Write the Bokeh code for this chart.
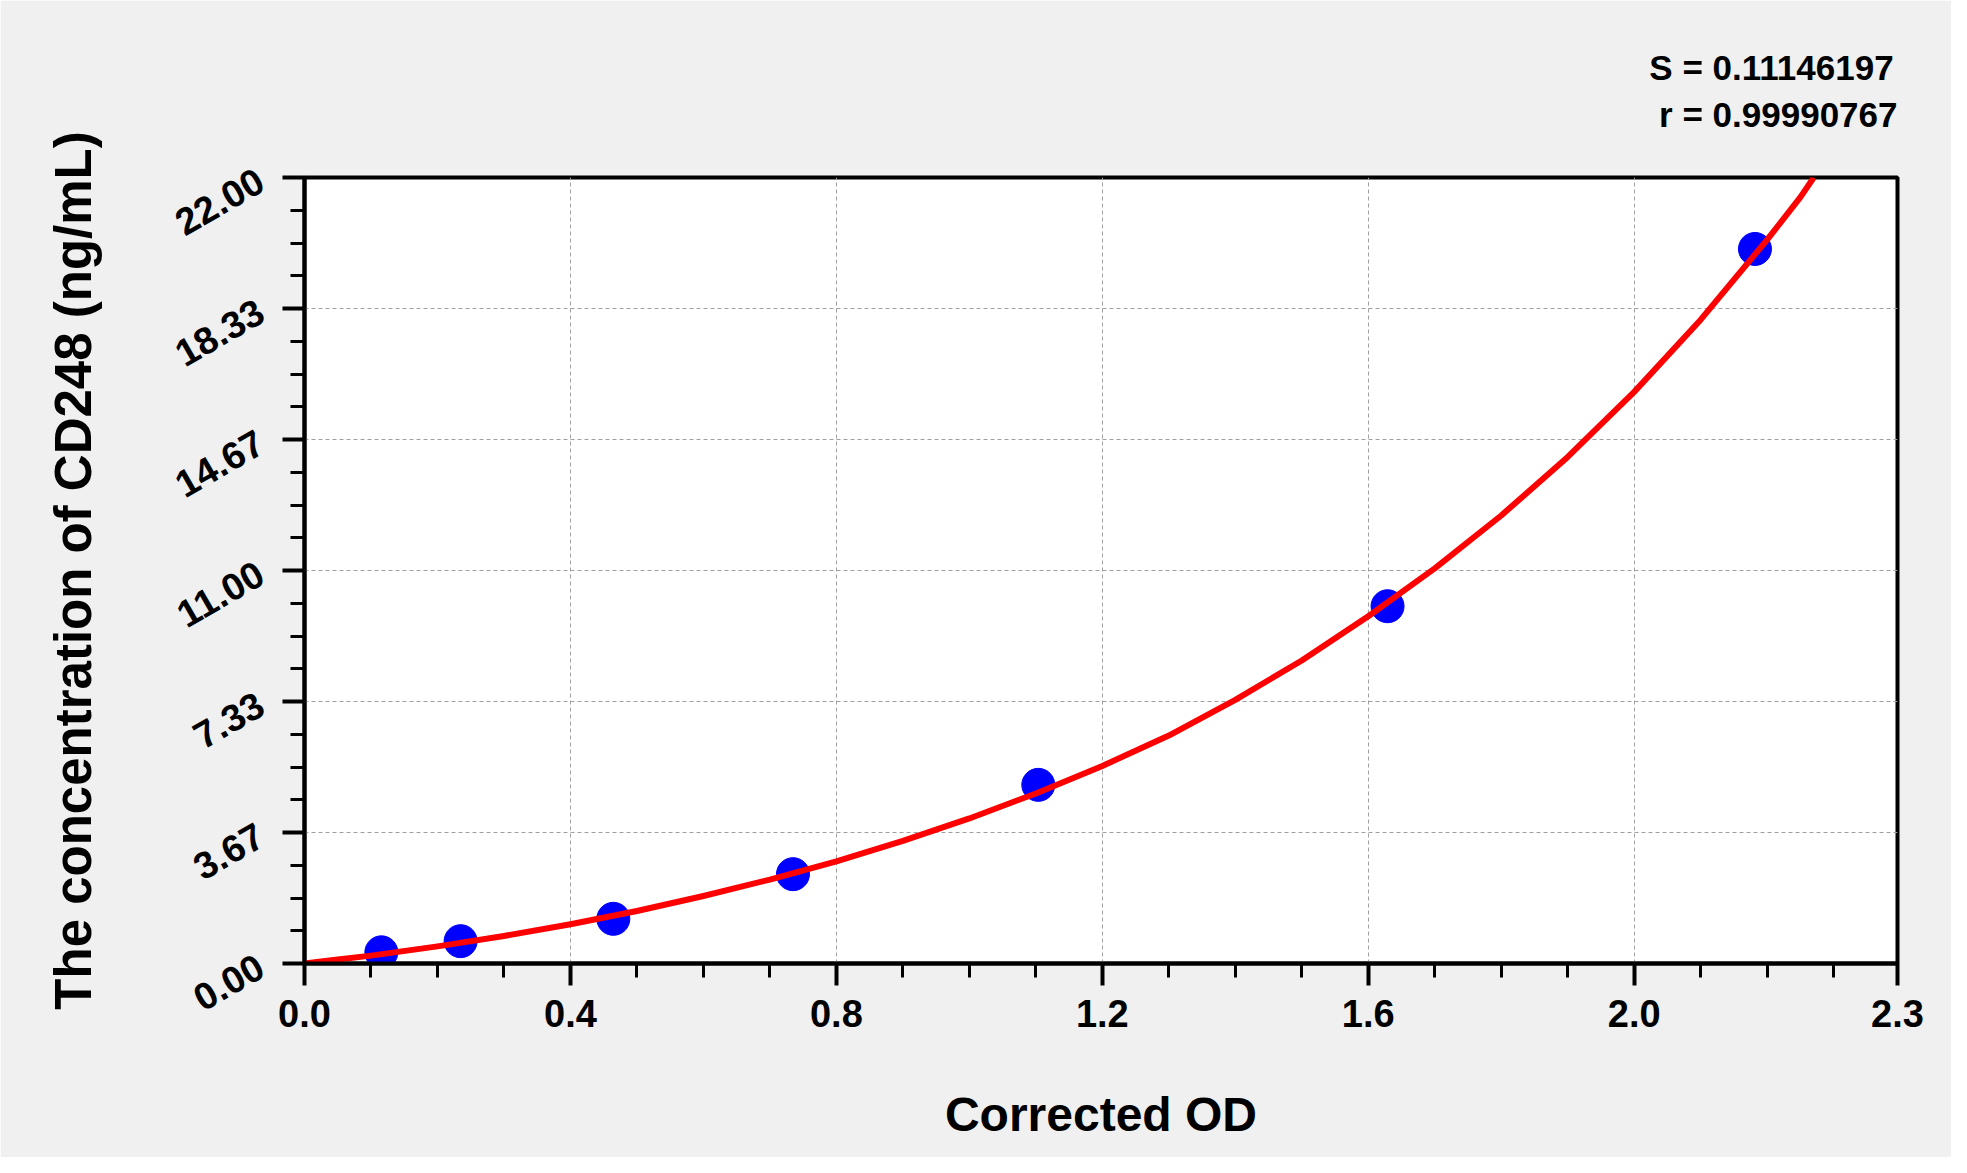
import math
from bokeh.plotting import figure
from bokeh.models import Range1d, FixedTicker, NumeralTickFormatter, CustomJSTickFormatter, Title
from bokeh.embed import file_html
from bokeh.resources import INLINE

# standard points (corrected OD vs concentration)
od = [0.1156, 0.2348, 0.4645, 0.7347, 1.1037, 1.629, 2.1816]
conc = [0.3125, 0.625, 1.25, 2.5, 5.0, 10.0, 20.0]

# fitted curve
curve_od = [0.0, 0.05, 0.1, 0.2, 0.3, 0.4, 0.5, 0.6, 0.7, 0.8, 0.9, 1.0, 1.1,
            1.2, 1.3, 1.4, 1.5, 1.6, 1.7, 1.8, 1.9, 2.0, 2.1, 2.2, 2.25, 2.27]
curve_conc = [0.0, 0.11, 0.22, 0.48, 0.77, 1.10, 1.47, 1.89, 2.35, 2.86, 3.43,
              4.06, 4.76, 5.53, 6.38, 7.38, 8.48, 9.72, 11.06, 12.54, 14.18,
              16.00, 18.02, 20.26, 21.45, 22.0]

x_major = [0.0, 0.4, 0.8, 1.2, 1.6, 2.0, 2.396]
x_minor = [round(0.1 * i, 1) for i in range(24)]
y_major = [0.0, 3.6667, 7.3333, 11.0, 14.6667, 18.3333, 22.0]
y_minor = [22 / 24 * i for i in range(25)]

fit_stats = ["S = 0.11146197", "r = 0.99990767"]

FONT = "Liberation Sans"

p = figure(width=1951, height=1157,
           x_range=Range1d(0, 2.396), y_range=Range1d(0, 22),
           output_backend="svg", toolbar_location=None, tools="",
           min_border_left=304, min_border_right=54,
           min_border_top=177, min_border_bottom=194)

p.border_fill_color = "#f0f0f0"
p.background_fill_color = "white"
p.outline_line_color = "black"
p.outline_line_width = 4

# axes
p.xaxis.ticker = FixedTicker(ticks=x_major, minor_ticks=x_minor)
p.yaxis.ticker = FixedTicker(ticks=y_major, minor_ticks=y_minor)
p.xaxis.formatter = CustomJSTickFormatter(code="return (Math.floor(tick*10 + 1e-6)/10).toFixed(1)")
p.yaxis.formatter = NumeralTickFormatter(format="0.00")
p.yaxis.major_label_orientation = math.pi / 6

for ax in (p.xaxis, p.yaxis):
    ax.axis_line_width = 4
    ax.major_tick_line_width = 4
    ax.minor_tick_line_width = 3
    ax.major_tick_in = 0
    ax.minor_tick_in = 0
    ax.major_tick_out = 22
    ax.minor_tick_out = 14
    ax.major_label_text_font = FONT
    ax.major_label_text_font_style = "bold"
    ax.major_label_text_font_size = "38px"
    ax.major_label_text_color = "black"
    ax.axis_label_text_font = FONT
    ax.axis_label_text_font_style = "bold"
    ax.axis_label_text_color = "black"

p.xaxis.major_label_standoff = 14
p.yaxis.major_label_standoff = 22
p.xaxis.axis_label = "Corrected OD"
p.xaxis.axis_label_text_font_size = "48px"
p.xaxis.axis_label_standoff = 58
p.yaxis.axis_label = "The concentration of CD248 (ng/mL)"
p.yaxis.axis_label_text_font_size = "51px"
p.yaxis.axis_label_standoff = 60

p.grid.grid_line_color = "#a0a0a0"
p.grid.grid_line_width = 1
p.grid.grid_line_dash = "4 3"

# points and fitted curve
p.scatter(od, conc, size=33, color="#0000ff", line_color="#0000ff")
p.line(curve_od, curve_conc, line_color="#ff0000", line_width=6, line_join="round")

# fit statistics above the frame; the no-break space makes "r" as wide as "S"
# so both lines end at the same place
p.add_layout(Title(text=fit_stats[0] + "\n\u00a0" + fit_stats[1], align="right",
                   standoff=86, offset=0, text_font=FONT, text_font_style="bold",
                   text_line_height=1.23, text_font_size="35px", text_color="black"),
             "above")

open("out.html", "w").write(file_html(p, INLINE))
